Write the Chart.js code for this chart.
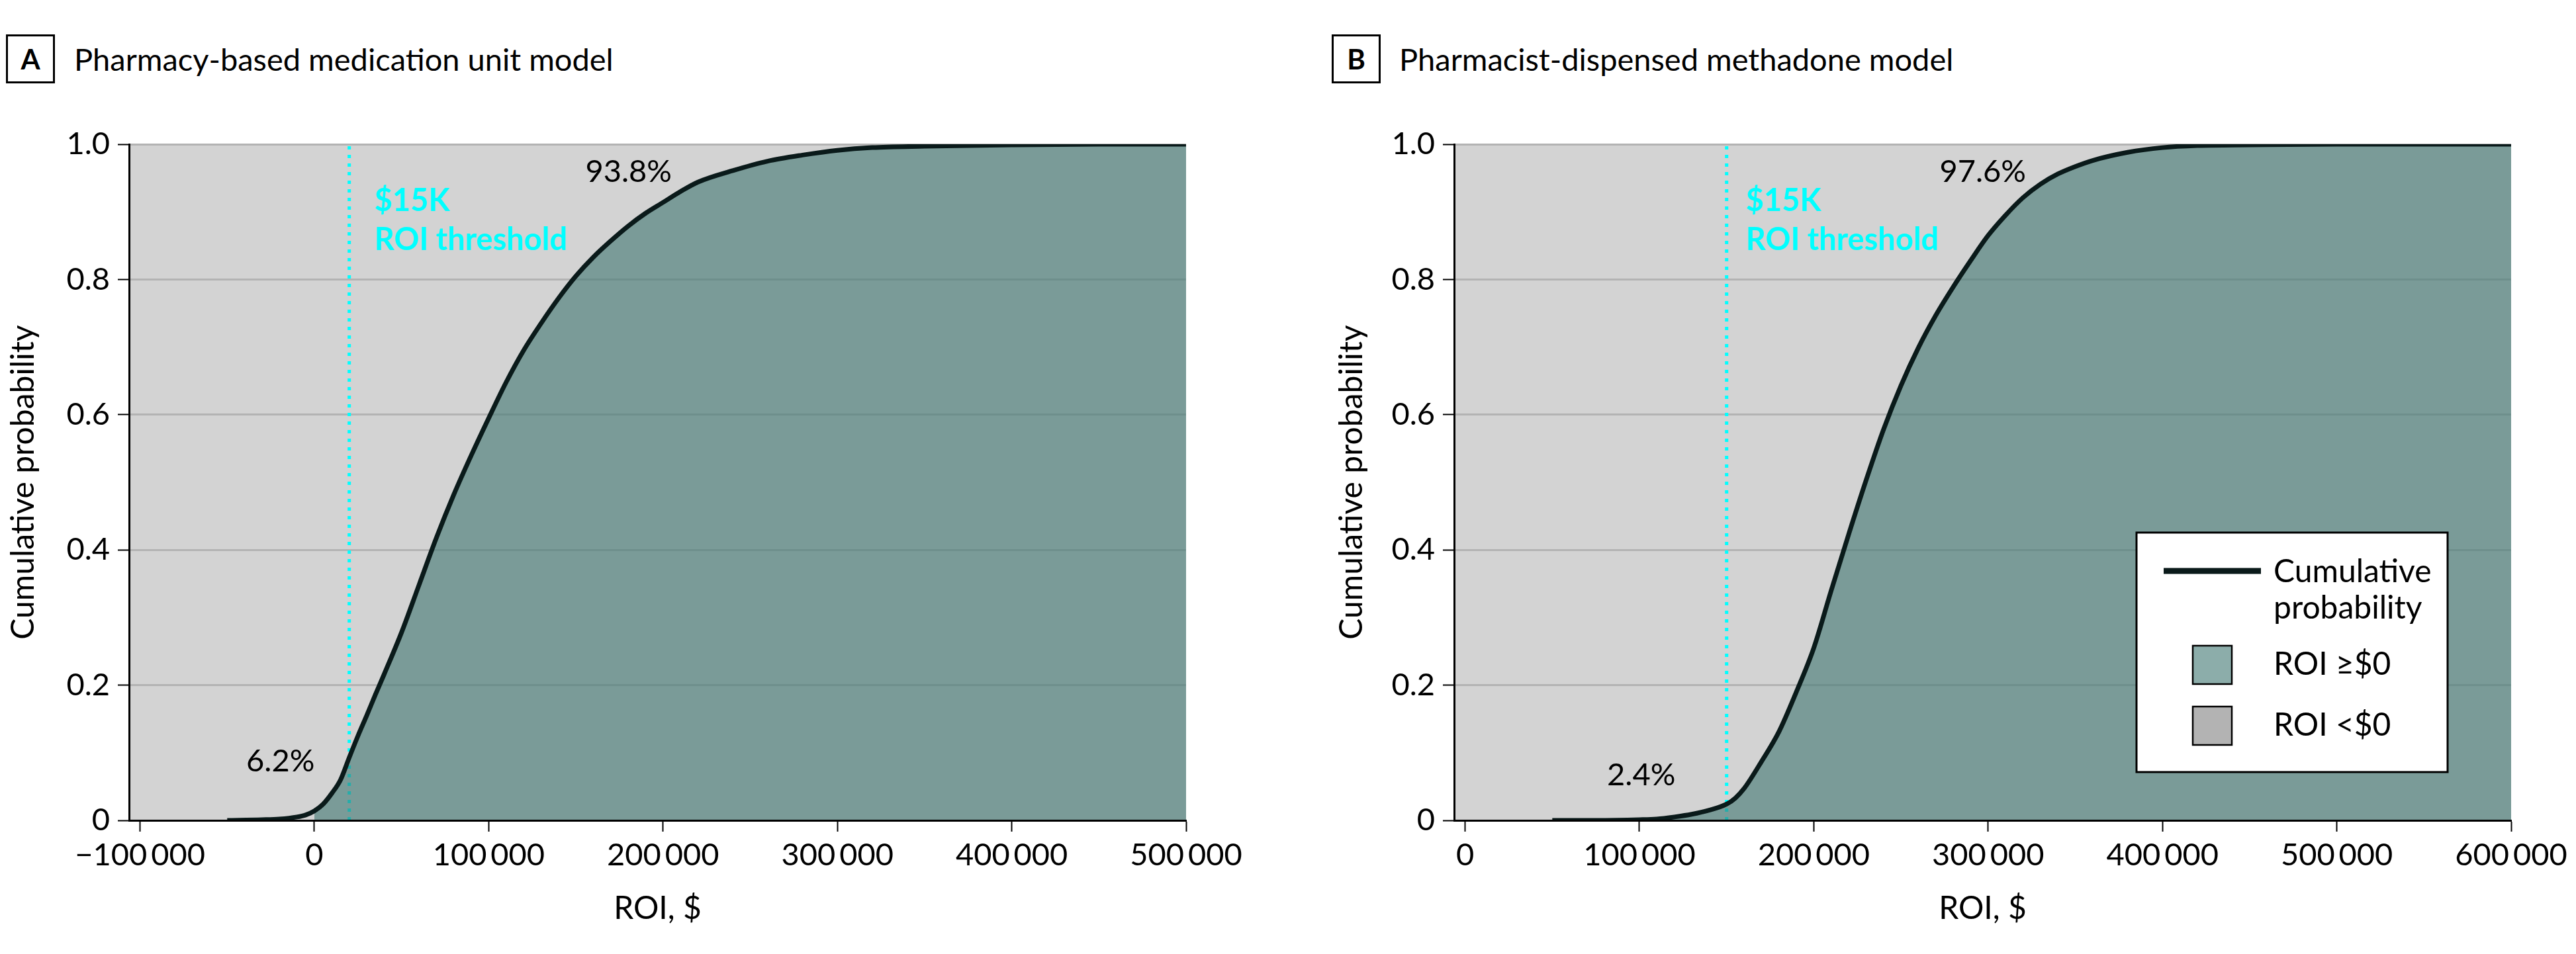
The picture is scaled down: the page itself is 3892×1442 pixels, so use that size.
<!DOCTYPE html>
<html>
<head>
<meta charset="utf-8">
<script src="https://cdn.jsdelivr.net/npm/chart.js@4.4.1/dist/chart.umd.min.js"></script>
<style>
    body { margin: 0; width: 3892px; height: 1442px; background: #fff; position: relative; overflow: hidden; font-family: Lato, sans-serif; }
    canvas { position: absolute; top: 0; }
    .tag { position: absolute; top: 52px; width: 68px; height: 68px; border: 3px solid #000; font: bold 42px Lato; text-align: center; line-height: 68px; color: #000; }
    .ttl { position: absolute; top: 52px; height: 74px; line-height: 74px; font-size: 47px; color: #000; white-space: nowrap; }
</style>
</head>
<body>
<div class="tag" style="left:9px">A</div>
<div class="ttl" style="left:112px">Pharmacy-based medication unit model</div>
<div class="tag" style="left:2012px">B</div>
<div class="ttl" style="left:2114px">Pharmacist-dispensed methadone model</div>

<canvas id="graficoA" width="1930" height="1442" style="left:0"></canvas>
<canvas id="graficoB" width="1942" height="1442" style="left:1950px"></canvas>

<script>
// panel A - pharmacy-based medication unit model
var roiA = [-50000, -30000, -20000, -10000, -5000, 0, 5000, 10000, 15000, 20000, 25000, 30000, 35000, 40000,
    50000, 60000, 70000, 80000, 90000, 100000, 110000, 120000, 130000, 140000, 150000, 160000, 170000,
    180000, 190000, 200000, 210000, 220000, 240000, 260000, 280000, 300000, 320000, 350000, 400000, 450000, 500000];
var probA = [0, 0.001, 0.002, 0.005, 0.008, 0.014, 0.024, 0.04, 0.06, 0.093, 0.125, 0.155, 0.186, 0.216,
    0.278, 0.348, 0.418, 0.482, 0.54, 0.595, 0.648, 0.695, 0.735, 0.772, 0.805, 0.833, 0.857,
    0.879, 0.898, 0.914, 0.93, 0.944, 0.961, 0.975, 0.984, 0.991, 0.995, 0.997, 0.999, 1, 1];

// panel B - pharmacist-dispensed methadone model
var roiB = [50000, 75000, 100000, 110000, 120000, 130000, 140000, 150000, 155000, 160000, 170000, 180000,
    190000, 200000, 210000, 220000, 230000, 240000, 250000, 260000, 270000, 280000, 290000, 300000,
    310000, 320000, 330000, 340000, 350000, 360000, 380000, 400000, 420000, 450000, 500000, 600000];
var probB = [0, 0, 0.001, 0.002, 0.005, 0.009, 0.015, 0.024, 0.033, 0.047, 0.087, 0.131,
    0.19, 0.255, 0.34, 0.423, 0.503, 0.578, 0.643, 0.699, 0.747, 0.789, 0.828, 0.865,
    0.895, 0.921, 0.941, 0.956, 0.967, 0.976, 0.988, 0.995, 0.998, 0.999, 1, 1];

var xTicksA = [-100000, 0, 100000, 200000, 300000, 400000, 500000];
var xTicksB = [0, 100000, 200000, 300000, 400000, 500000, 600000];
var xRangeA = [-106300, 500000];
var xRangeB = [-6300, 600000];
var yTicks = [0, 0.2, 0.4, 0.6, 0.8, 1.0];
var yTickLabels = ["0", "0.2", "0.4", "0.6", "0.8", "1.0"];

var thresholdA = 20000;
var thresholdB = 150000;
var thresholdText = ["$15K", "ROI threshold"];
var shareA = ["6.2%", "93.8%"];
var shareB = ["2.4%", "97.6%"];
var seriesNames = ["Cumulative probability", "ROI \u2265$0", "ROI <$0"];

var FONTE = "Lato";
var COR_CURVA = "#0a1a1a";
var COR_POSITIVO = "rgba(64, 118, 114, 0.6)";
var COR_FUNDO = "#d3d3d3";
var COR_NEGATIVO = "#b3b3b3";

function formatarRoi(v) {
    var s = Math.abs(v).toString().replace(/\B(?=(\d{3})+(?!\d))/g, "\u2009");
    return (v < 0 ? "\u2212" : "") + s;
}

function desenharLegenda(chart) {
    var a = chart.chartArea;
    var ctx = chart.ctx;
    var ds = chart.data.datasets;
    var w = 470, h = 362;
    var left = a.right - 96 - w;
    var top = a.bottom - 73 - h;

    ctx.save();
    ctx.fillStyle = "#fff";
    ctx.fillRect(left, top, w, h);
    ctx.lineWidth = 3;
    ctx.strokeStyle = "#000";
    ctx.strokeRect(left, top, w, h);

    ctx.strokeStyle = ds[0].borderColor;
    ctx.lineWidth = 9;
    ctx.beginPath();
    ctx.moveTo(left + 41, top + 58);
    ctx.lineTo(left + 188, top + 58);
    ctx.stroke();

    ctx.font = "48px " + FONTE;
    ctx.fillStyle = "#000";
    ctx.textAlign = "left";
    ctx.textBaseline = "alphabetic";
    var palavras = ds[0].label.split(" ");
    ctx.fillText(palavras[0], left + 207, top + 75);
    ctx.fillText(palavras[1], left + 207, top + 130);

    var itens = [[ds[1].label, ds[1].backgroundColor, 171, 215], [seriesNames[2], COR_NEGATIVO, 263, 307]];
    itens.forEach(function (item) {
        ctx.fillStyle = "#fff";
        ctx.fillRect(left + 85, top + item[2], 59, 58);
        ctx.fillStyle = item[1];
        ctx.fillRect(left + 85, top + item[2], 59, 58);
        ctx.lineWidth = 2.5;
        ctx.strokeStyle = "#000";
        ctx.strokeRect(left + 85, top + item[2], 59, 58);
        ctx.fillStyle = "#000";
        ctx.fillText(item[0], left + 207, top + item[3]);
    });
    ctx.restore();
}

var enfeites = {
    id: "enfeites",
    beforeDraw: function (chart) {
        var a = chart.chartArea;
        var ctx = chart.ctx;
        ctx.save();
        ctx.fillStyle = COR_FUNDO;
        ctx.fillRect(a.left, a.top, a.right - a.left, a.bottom - a.top);
        ctx.restore();
    },
    afterDatasetsDraw: function (chart, args, opts) {
        var a = chart.chartArea;
        var ctx = chart.ctx;
        var xt = chart.scales.x.getPixelForValue(opts.threshold);
        ctx.save();
        ctx.textBaseline = "middle";

        ctx.fillStyle = "#00ffff";
        ctx.textAlign = "left";
        ctx.font = "bold 47px " + FONTE;
        ctx.fillText(thresholdText[0], xt + opts.textGap, a.top + 86);
        ctx.fillText(thresholdText[1], xt + opts.textGap, a.top + 145);

        ctx.fillStyle = "#000";
        ctx.textAlign = "center";
        ctx.font = "47px " + FONTE;
        ctx.fillText(opts.share[0], xt + opts.lowPos[0], a.bottom - opts.lowPos[1]);
        ctx.fillText(opts.share[1], xt + opts.highPos[0], a.top + 42);
        ctx.restore();
    },
    afterDraw: function (chart, args, opts) {
        if (opts.legend) {
            desenharLegenda(chart);
        }
    }
};

function criarGrafico(id, roi, prob, xTicks, xRange, threshold, yWidth, padRight, titlePad, decor) {
    var curva = roi.map(function (x, i) { return { x: x, y: prob[i] }; });
    var positivo = curva.filter(function (p) { return p.x >= 0; });
    var ctx = document.getElementById(id).getContext("2d");

    new Chart(ctx, {
        type: "line",
        data: {
            datasets: [{
                label: seriesNames[0],
                data: curva,
                borderColor: COR_CURVA,
                borderWidth: 7,
                pointRadius: 0,
                fill: false,
                cubicInterpolationMode: "monotone",
                order: 1
            }, {
                label: seriesNames[1],
                data: positivo,
                borderColor: "rgba(0,0,0,0)",
                borderWidth: 0,
                backgroundColor: COR_POSITIVO,
                pointRadius: 0,
                fill: "origin",
                cubicInterpolationMode: "monotone",
                order: 2
            }, {
                label: "threshold",
                data: [{ x: threshold, y: yTicks[0] }, { x: threshold, y: yTicks[yTicks.length - 1] }],
                borderColor: "#00ffff",
                borderWidth: 5,
                borderDash: [5, 8],
                pointRadius: 0,
                fill: false,
                order: 3
            }]
        },
        options: {
            responsive: false,
            animation: false,
            layout: { padding: { top: 218, right: padRight, bottom: 0, left: 0 } },
            plugins: {
                legend: { display: false },
                tooltip: { enabled: false },
                enfeites: decor
            },
            scales: {
                x: {
                    type: "linear",
                    min: xRange[0],
                    max: xRange[1],
                    afterBuildTicks: function (scale) {
                        scale.ticks = xTicks.map(function (v) { return { value: v }; });
                    },
                    afterFit: function (scale) { scale.height = 202; },
                    grid: { drawOnChartArea: false, drawTicks: true, tickLength: 17, tickColor: "#000", tickWidth: 2 },
                    border: { display: true, color: "#000", width: 3, z: 1 },
                    ticks: {
                        color: "#000",
                        font: { family: FONTE, size: 47 },
                        padding: 8,
                        maxRotation: 0,
                        autoSkip: false,
                        callback: function (v) { return formatarRoi(v); }
                    },
                    title: {
                        display: true,
                        text: "ROI, $",
                        color: "#000",
                        font: { family: FONTE, size: 48 },
                        padding: { top: 0, bottom: 40 }
                    }
                },
                y: {
                    min: yTicks[0],
                    max: yTicks[yTicks.length - 1],
                    afterBuildTicks: function (scale) {
                        scale.ticks = yTicks.map(function (v) { return { value: v }; });
                    },
                    afterFit: function (scale) { scale.width = yWidth; },
                    grid: {
                        color: function (c) { return c.tick && c.tick.value === 0 ? "rgba(0,0,0,0)" : "#b3b3b3"; },
                        lineWidth: 3,
                        tickLength: 17,
                        tickColor: "#000",
                        tickWidth: 2
                    },
                    border: { display: true, color: "#000", width: 3, z: 1 },
                    ticks: {
                        color: "#000",
                        font: { family: FONTE, size: 47 },
                        padding: 12,
                        callback: function (v) { return yTickLabels[yTicks.indexOf(v)]; }
                    },
                    title: {
                        display: true,
                        text: "Cumulative probability",
                        color: "#000",
                        font: { family: FONTE, size: 48 },
                        padding: { top: titlePad, bottom: 0 }
                    }
                }
            }
        },
        plugins: [enfeites]
    });
}

criarGrafico("graficoA", roiA, probA, xTicksA, xRangeA, thresholdA, 195, 138, 7,
    { threshold: thresholdA, textGap: 38, share: shareA, lowPos: [-104, 89], highPos: [422], legend: false });
criarGrafico("graficoB", roiB, probB, xTicksB, xRangeB, thresholdB, 247, 98, 64,
    { threshold: thresholdB, textGap: 29, share: shareB, lowPos: [-129, 68], highPos: [387], legend: true });
</script>
</body>
</html>
